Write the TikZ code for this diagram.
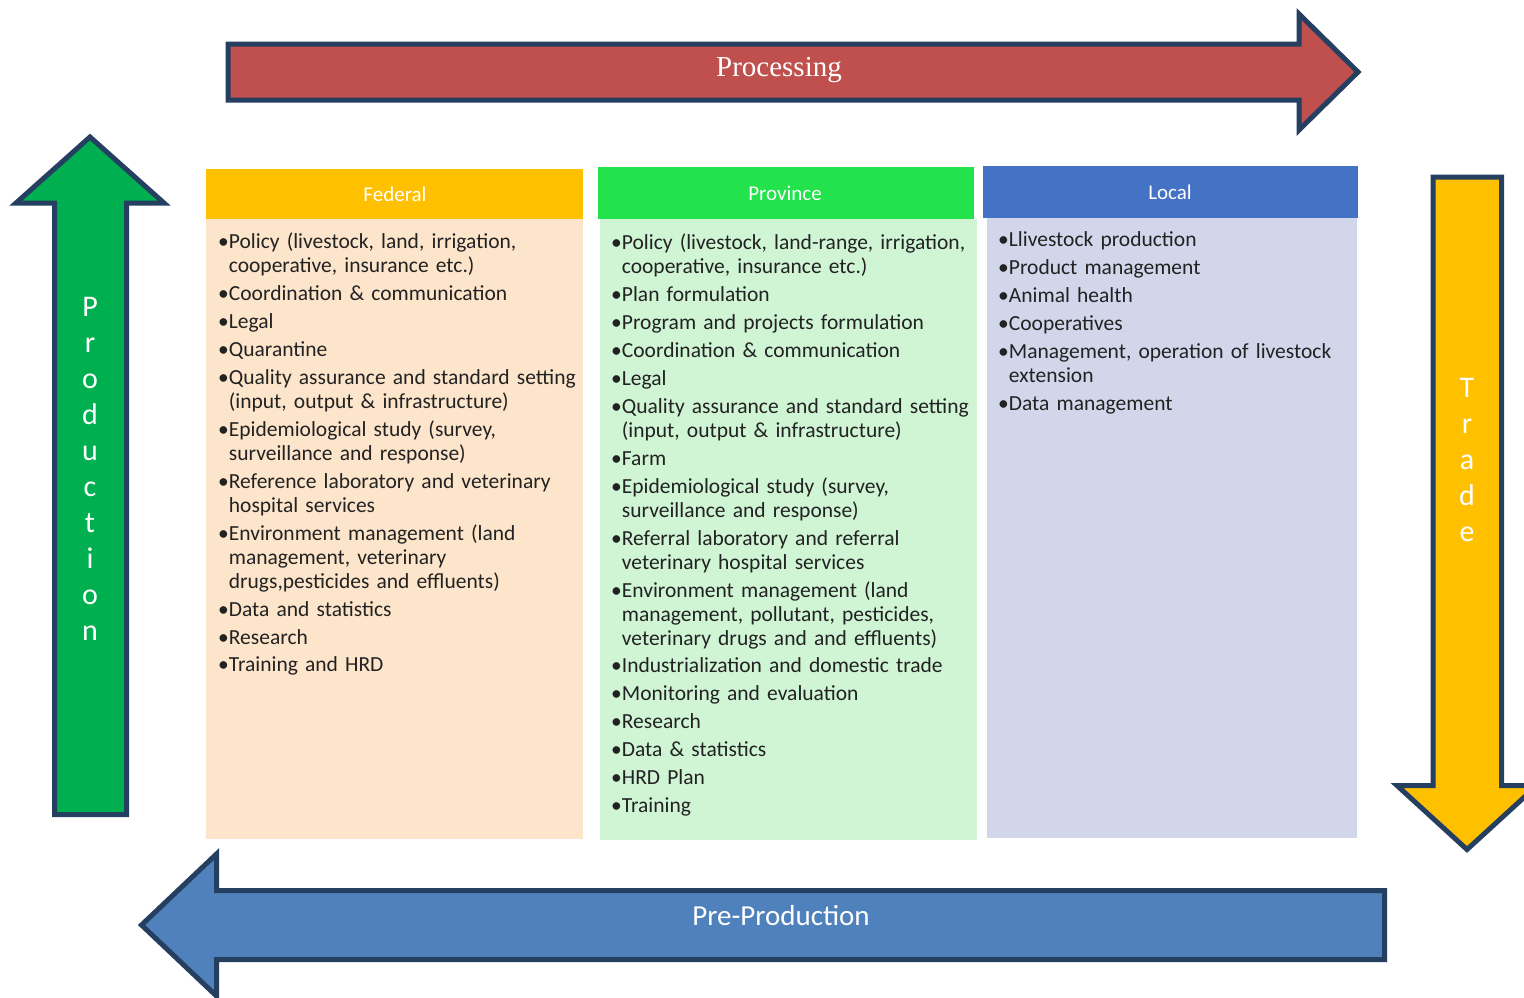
\documentclass[tikz,border=0pt]{standalone}
\usepackage{fontspec}
\setmainfont{Carlito}
\newfontfamily\procfont{Liberation Serif}

\definecolor{edgeblue}{HTML}{243F60}
\definecolor{procred}{HTML}{C0504D}
\definecolor{prodgreen}{HTML}{00B050}
\definecolor{tradeyellow}{HTML}{FFC000}
\definecolor{preblue}{HTML}{4F81BD}
\definecolor{fedhead}{HTML}{FFC000}
\definecolor{fedbody}{HTML}{FDE5CB}
\definecolor{provhead}{HTML}{22E34B}
\definecolor{provbody}{HTML}{D0F5D5}
\definecolor{localhead}{HTML}{4472C4}
\definecolor{localbody}{HTML}{D2D6EA}
\definecolor{bodytext}{HTML}{222222}

% bullet list item with hanging indent; \nl breaks a line inside an item
\newlength\bulletw
\newcommand\nl{\newline}
\newcommand\lvitem[1]{\par\hangindent=\bulletw\hangafter=1\noindent
  \makebox[\bulletw][l]{\textbullet}#1\par}
\newcommand\listsetup{\fontsize{21.5}{24}\selectfont
  \parindent=0pt\parskip=3.9pt\rightskip=0pt plus 1fil
  \settowidth\bulletw{\textbullet}}

\begin{document}
\begin{tikzpicture}[x=1pt,y=-1pt,
  bigarrow/.style={draw=edgeblue, line width=5pt, line join=miter, miter limit=10},
  arrowtext/.style={text=white, inner sep=0pt},
  headbox/.style={rectangle, inner sep=0pt, text=white,
    font=\fontsize{21}{21}\selectfont},
  bodybox/.style={rectangle, inner sep=0pt},
  listbox/.style={anchor=base west, inner sep=0pt, text width=420pt,
    text=bodytext, font=\listsetup}]
\useasboundingbox (0,0) rectangle (1524,997);

% ---- flow arrows round the table ----
\path[bigarrow, fill=procred] (228,44) -- (1299,44) -- (1299,14) -- (1358,72)
  -- (1299,130) -- (1299,100) -- (228,100) -- cycle;
\node[arrowtext, font=\procfont\fontsize{29}{29}\selectfont] (proc) at (779,70) {Processing};

\path[bigarrow, fill=prodgreen] (54.5,814.5) -- (54.5,203) -- (16,203) -- (90,137)
  -- (164,203) -- (126.5,203) -- (126.5,814.5) -- cycle;
\node[arrowtext, align=center, font=\fontsize{30}{36}\selectfont] (prod) at (90,469)
  {P\\r\\o\\d\\u\\c\\t\\i\\o\\n};

\path[bigarrow, fill=tradeyellow] (1433,177) -- (1501.5,177) -- (1501.5,785.5)
  -- (1537,785.5) -- (1467,849.5) -- (1397,785.5) -- (1433,785.5) -- cycle;
\node[arrowtext, align=center, font=\fontsize{30}{36}\selectfont] (trade) at (1467,460)
  {T\\r\\a\\d\\e};

\path[bigarrow, fill=preblue] (1384.5,890.5) -- (1384.5,959.5) -- (216.5,959.5)
  -- (216.5,996) -- (141.5,925) -- (216.5,854) -- (216.5,890.5) -- cycle;
\node[arrowtext, font=\fontsize{29}{29}\selectfont] (prep) at (781,916) {Pre-Production};

% ---- column backgrounds and headers ----
\node[bodybox, fill=fedbody, minimum width=377pt, minimum height=620pt,
  anchor=north west] (fedb) at (206,219) {};
\node[headbox, fill=fedhead, minimum width=377pt, minimum height=50pt,
  anchor=north west] (fedh) at (206,169) {};
\node[arrowtext, font=\fontsize{21}{21}\selectfont] (fedt) at (395,194) {Federal};

\node[bodybox, fill=provbody, minimum width=377pt, minimum height=621pt,
  anchor=north west] (provb) at (600,219) {};
\node[headbox, fill=provhead, minimum width=376pt, minimum height=52pt,
  anchor=north west] (provh) at (598,167) {};
\node[arrowtext, font=\fontsize{21}{21}\selectfont] (provt) at (785,193) {Province};

\node[bodybox, fill=localbody, minimum width=370pt, minimum height=620pt,
  anchor=north west] (locb) at (987,218) {};
\node[headbox, fill=localhead, minimum width=375pt, minimum height=52pt,
  anchor=north west] (loch) at (983,166) {};
\node[arrowtext, font=\fontsize{21}{21}\selectfont] (loct) at (1170,192) {Local};

% ---- bullet lists ----
\node[listbox] (fedl) at (218,221) {%
\lvitem{Policy (livestock, land, irrigation,\nl cooperative, insurance etc.)}%
\lvitem{Coordination \& communication}%
\lvitem{Legal}%
\lvitem{Quarantine}%
\lvitem{Quality assurance and standard setting\nl (input, output \& infrastructure)}%
\lvitem{Epidemiological study (survey,\nl surveillance and response)}%
\lvitem{Reference laboratory and veterinary\nl hospital services}%
\lvitem{Environment management (land\nl management, veterinary\nl drugs,pesticides and effluents)}%
\lvitem{Data and statistics}%
\lvitem{Research}%
\lvitem{Training and HRD}};

\node[listbox] (provl) at (611,222) {%
\lvitem{Policy (livestock, land-range, irrigation,\nl cooperative, insurance etc.)}%
\lvitem{Plan formulation}%
\lvitem{Program and projects formulation}%
\lvitem{Coordination \& communication}%
\lvitem{Legal}%
\lvitem{Quality assurance and standard setting\nl (input, output \& infrastructure)}%
\lvitem{Farm}%
\lvitem{Epidemiological study (survey,\nl surveillance and response)}%
\lvitem{Referral laboratory and referral\nl veterinary hospital services}%
\lvitem{Environment management (land\nl management, pollutant, pesticides,\nl veterinary drugs and and effluents)}%
\lvitem{Industrialization and domestic trade}%
\lvitem{Monitoring and evaluation}%
\lvitem{Research}%
\lvitem{Data \& statistics}%
\lvitem{HRD Plan}%
\lvitem{Training}};

\node[listbox] (locl) at (998,219) {%
\lvitem{Llivestock production}%
\lvitem{Product management}%
\lvitem{Animal health}%
\lvitem{Cooperatives}%
\lvitem{Management, operation of livestock\nl extension}%
\lvitem{Data management}};
\end{tikzpicture}
\end{document}
